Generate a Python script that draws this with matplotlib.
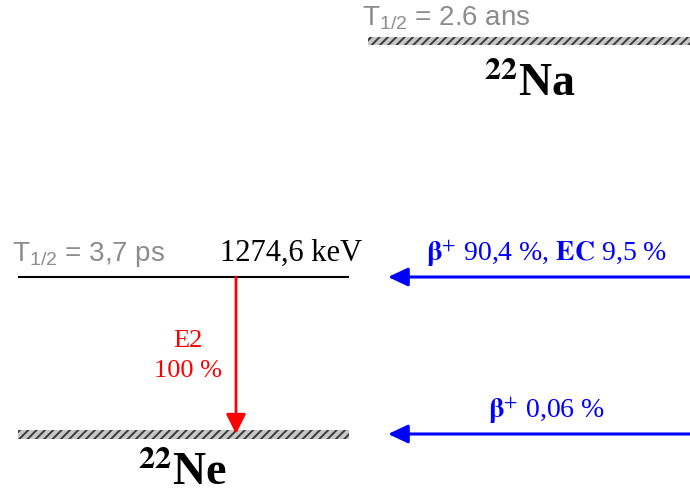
import matplotlib
matplotlib.use('Agg')
import matplotlib.pyplot as plt
from matplotlib.patches import Rectangle

plt.rcParams['mathtext.fontset'] = 'custom'
plt.rcParams['mathtext.rm'] = 'Liberation Sans'
plt.rcParams['mathtext.it'] = 'Liberation Sans:italic'
plt.rcParams['mathtext.bf'] = 'Liberation Sans:bold'
plt.rcParams['hatch.linewidth'] = 1.4
plt.rcParams['hatch.color'] = '#3a3a3a'

# ---------------- data ----------------
parent_name = 'Na'
daughter_name = 'Ne'
mass_number = '22'
parent_half_life = r'T$_{1/2}$ = 2.6 ans'
excited_half_life = r'T$_{1/2}$ = 3,7 ps'
daughter_levels = [0.0, 1274.6]          # keV
excited_label = '1274,6 keV'
parent_display_level = 3190.0            # position on the (broken) energy scale
gamma_type = 'E2'
gamma_intensity = '100 %'
feed_labels = [r'$\mathbf{\beta}^{+}$ 0,06 %',
               r'$\mathbf{\beta}^{+}$ 90,4 %, $\mathbf{EC}$ 9,5 %']

# ---------------- figure ----------------
W, H = 690, 495
fig = plt.figure(figsize=(6.9, 4.95), dpi=100)
ax = fig.add_axes([0, 0, 1, 1])
ax.axis('off')
kev_per_px = daughter_levels[1] / 157.0
ax.set_xlim(0, W)
ax.set_ylim(-(H - 434) * kev_per_px, 434 * kev_per_px)


def up(px):
    return px * kev_per_px


gray = '#8c8c8c'
serif = 'Liberation Serif'
sans = 'Liberation Sans'


def hatched_level(x0, x1, y, thick_px):
    r = Rectangle((x0, y - up(thick_px / 2)), x1 - x0, up(thick_px),
                  facecolor='#c8c8c8', edgecolor='#3a3a3a', hatch='////',
                  linewidth=0)
    ax.add_patch(r)


# parent level
hatched_level(368, 690, parent_display_level, 8)
ax.text(362, parent_display_level + up(16), parent_half_life, color=gray,
        fontsize=20, family=sans, ha='left', va='baseline')
ax.text(530, parent_display_level - up(55), r'$^{\mathbf{' + mass_number + r'}}$' + parent_name,
        fontsize=33, family=serif, weight='bold', math_fontfamily='stix',
        ha='center', va='baseline')

# daughter ground level
hatched_level(18, 349, daughter_levels[0], 9)
ax.text(183, daughter_levels[0] - up(51), r'$^{\mathbf{' + mass_number + r'}}$' + daughter_name,
        fontsize=33, family=serif, weight='bold', math_fontfamily='stix',
        ha='center', va='baseline')

# daughter excited level
ax.plot([18, 349], [daughter_levels[1], daughter_levels[1]], color='black', lw=1.5,
        solid_capstyle='butt')
ax.text(12, daughter_levels[1] + up(16), excited_half_life, color=gray,
        fontsize=20, family=sans, ha='left', va='baseline')
ax.text(362, daughter_levels[1] + up(16), excited_label, color='black',
        fontsize=22, family=serif, ha='right', va='baseline')

# gamma transition
ax.annotate('', xy=(236, daughter_levels[0]), xytext=(236, daughter_levels[1]),
            arrowprops=dict(arrowstyle='-|>,head_length=0.6,head_width=0.3',
                            mutation_scale=20, color='red', lw=2,
                            shrinkA=0, shrinkB=0))
ax.text(188, daughter_levels[1] - up(70), gamma_type, color='red', fontsize=19,
        family=serif, ha='center', va='baseline')
ax.text(188, daughter_levels[1] - up(100), gamma_intensity, color='red', fontsize=19,
        family=serif, ha='center', va='baseline')

# beta / EC feeding
for lvl, lab in zip(daughter_levels, feed_labels):
    ax.annotate('', xy=(388, lvl), xytext=(690, lvl),
                arrowprops=dict(arrowstyle='-|>,head_length=0.6,head_width=0.28',
                                mutation_scale=20, color='blue', lw=2.2,
                                shrinkA=0, shrinkB=0))
    ax.text(547, lvl + up(16), lab, color='blue', fontsize=20, family=serif,
            math_fontfamily='stix', ha='center', va='baseline')

fig.savefig('out.png', dpi=100)
